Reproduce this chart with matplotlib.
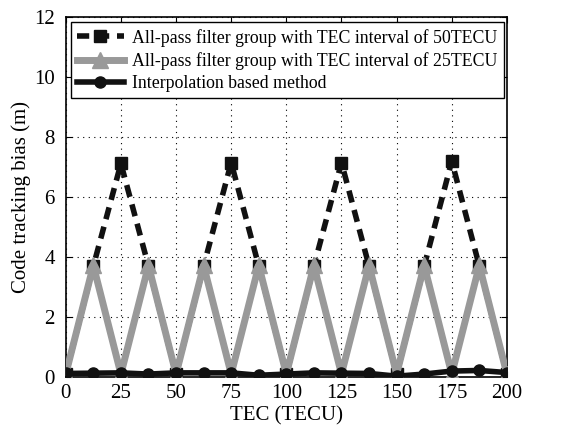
import numpy as np
import matplotlib.pyplot as plt

plt.rcParams['font.family'] = ['Liberation Serif', 'DejaVu Serif']

tec = [0, 12.5, 25, 37.5, 50, 62.5, 75, 87.5, 100, 112.5, 125, 137.5, 150, 162.5, 175, 187.5, 200]
bias_50 = [0.1, 3.7, 7.12, 3.7, 0.1, 3.7, 7.15, 3.7, 0.1, 3.7, 7.15, 3.7, 0.1, 3.7, 7.2, 3.7, 0.1]
bias_25 = [0.1, 3.72, 0.1, 3.72, 0.1, 3.72, 0.1, 3.72, 0.1, 3.72, 0.1, 3.72, 0.1, 3.72, 0.1, 3.72, 0.1]
bias_interp = [0.12, 0.13, 0.14, 0.1, 0.14, 0.14, 0.14, 0.06, 0.1, 0.14, 0.13, 0.12, 0.03, 0.1, 0.2, 0.22, 0.15]

fig = plt.figure(figsize=(5.67, 4.28), dpi=100)
ax = fig.add_axes([0.116, 0.119, 0.778, 0.841])

ax.plot(tec, bias_50, color='#111111', linestyle=(0, (2.2, 1.4)), linewidth=4,
        marker='s', markersize=8, label='All-pass filter group with TEC interval of 50TECU', zorder=3)
ax.plot(tec, bias_25, color='#999999', linewidth=5,
        marker='^', markersize=11, label='All-pass filter group with TEC interval of 25TECU', zorder=4)
ax.plot(tec, bias_interp, color='#111111', linewidth=4,
        marker='o', markersize=8, label='Interpolation based method', zorder=5)

ax.set_xlim(0, 200)
ax.set_ylim(0, 12)
ax.set_xticks(np.arange(0, 201, 25))
ax.set_yticks(np.arange(0, 13, 2))
ax.grid(True, linestyle=(0, (1, 4)), color='black', linewidth=0.8)
ax.tick_params(direction='in', top=True, right=True, labelsize=15, length=4)
ax.tick_params(axis='x', pad=5)
ax.tick_params(axis='y', pad=8)
for s in ax.spines.values():
    s.set_linewidth(1.2)

ax.set_xlabel('TEC (TECU)', fontsize=15, labelpad=2)
ax.set_ylabel('Code tracking bias (m)', fontsize=15, labelpad=2)

leg = ax.legend(loc='upper left', fontsize=12.8, fancybox=False, framealpha=1,
                edgecolor='black', borderaxespad=0.3, handlelength=2.6,
                labelspacing=0.3, borderpad=0.35, handletextpad=0.5)
leg.get_frame().set_linewidth(1.0)

fig.savefig('out.png', dpi=100)
